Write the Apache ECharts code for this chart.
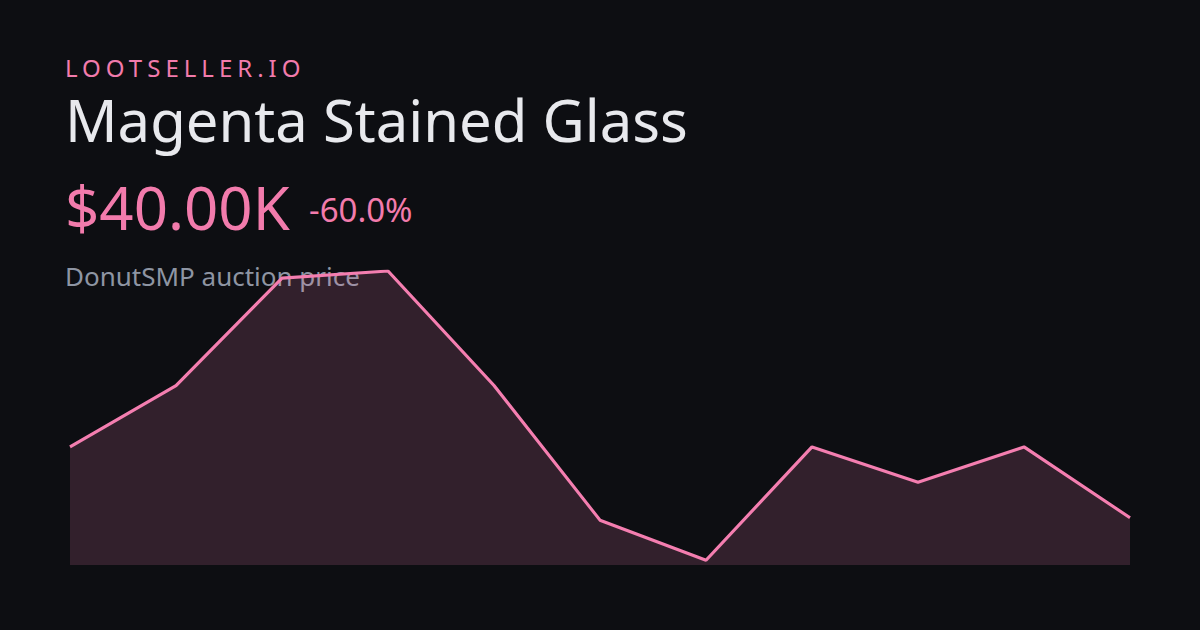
<!DOCTYPE html>
<html><head><meta charset="utf-8">
<script src="https://cdn.jsdelivr.net/npm/echarts@6/dist/echarts.min.js"></script>
<style>
html,body{margin:0;padding:0;background:#0d0e12;width:1200px;height:630px;overflow:hidden;font-family:"Noto Sans",sans-serif;}
.t{position:absolute;left:65px;line-height:1;white-space:nowrap;}
#chart{position:absolute;left:0;top:0;width:1200px;height:630px;}
</style></head>
<body>
<div class="t" id="brand" style="font-size:24px;letter-spacing:5px;color:#f27bac;top:56px;">LOOTSELLER.IO</div>
<div class="t" id="title" style="font-size:58px;color:#e8e9ed;top:91px;">Magenta Stained Glass</div>
<div class="t" id="price" style="font-size:60px;color:#f27bac;top:177px;">$40.00K</div>
<div class="t" id="chg" style="font-size:33px;color:#f27bac;top:193px;left:309px;">-60.0%</div>
<div class="t" id="sub" style="font-size:26px;color:#8e95a3;top:263px;">DonutSMP auction price</div>
<div id="chart"></div>
<script>
const categories = ["1","2","3","4","5","6","7","8","9","10","11"];
const prices = [100, 152, 243, 249, 152, 38, 4, 100, 70, 100, 40];

const chart = echarts.init(document.getElementById('chart'), null, {renderer:'canvas'});
chart.setOption({
  backgroundColor: 'transparent',
  animation: false,
  grid: {left: 70, right: 70, top: 271, bottom: 65},
  xAxis: {type:'category', data: categories, boundaryGap:false, show:false},
  yAxis: {type:'value', min:0, max:'dataMax', show:false},
  series: [{
    type:'line',
    data: prices,
    symbol:'none',
    lineStyle:{color:'#f47eb0', width:3.2},
    areaStyle:{color:'rgba(244,126,176,0.165)', opacity:1}
  }]
});
</script>
</body></html>
